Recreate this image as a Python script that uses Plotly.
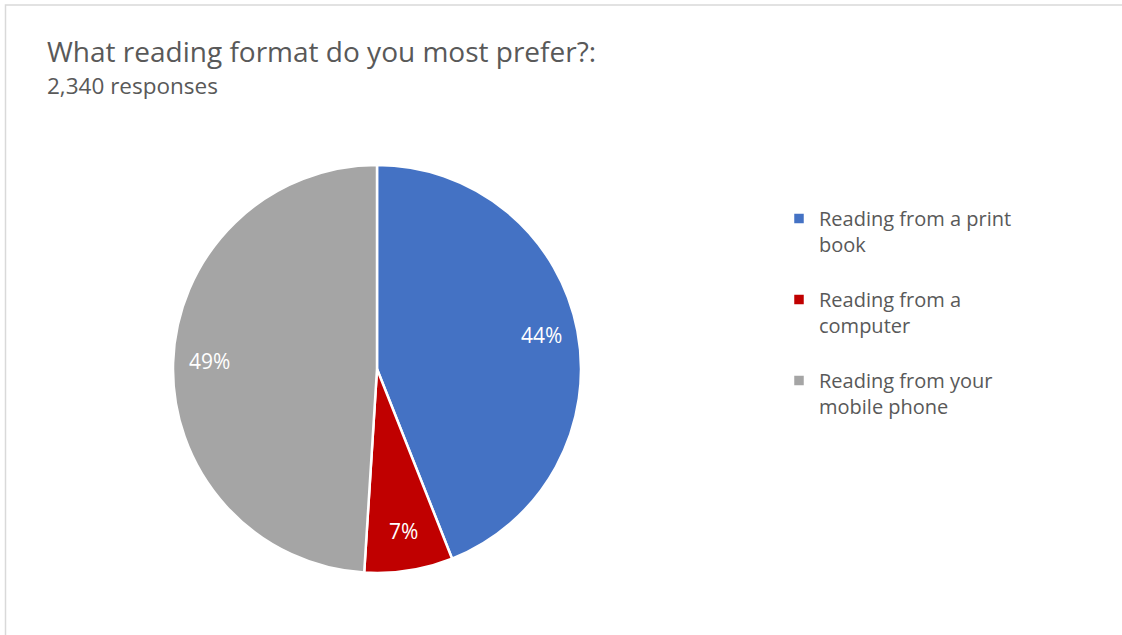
import math
import plotly.graph_objects as go

# Survey results: preferred reading format
categories = ["Reading from a print<br>book<br> ", "Reading from a<br>computer<br> ", "Reading from your<br>mobile phone<br> "]
shares = [44, 7, 49]
colors = ["#4472C4", "#C00000", "#A5A5A5"]

W, H = 1122, 635
FONT = "Open Sans"
GREY_TEXT = "#595959"

# pie geometry (pixels)
CX, CY, R = 377, 369, 204
LABEL_RADIUS = 0.82

fig = go.Figure(
    go.Pie(
        labels=categories,
        values=shares,
        sort=False,
        direction="clockwise",
        rotation=0,
        marker=dict(colors=colors, line=dict(color="white", width=2.5)),
        textinfo="none",
        domain=dict(x=[(CX - R) / W, (CX + R) / W], y=[(H - CY - R) / H, (H - CY + R) / H]),
        hovertemplate="%{value}%<extra></extra>",
    )
)

# percentage labels placed at the middle angle of each slice
total = sum(shares)
annotations = []
cum = 0
for v in shares:
    mid = (cum + v / 2) / total * 2 * math.pi
    cum += v
    px = CX + LABEL_RADIUS * R * math.sin(mid)
    py = CY - LABEL_RADIUS * R * math.cos(mid)
    annotations.append(dict(
        text=f"{v}%", xref="paper", yref="paper",
        x=px / W, y=1 - (py - 3) / H, xanchor="center", yanchor="middle",
        showarrow=False, font=dict(family=FONT, size=21, color="white"),
    ))

annotations += [
    dict(
        text="What reading format do you most prefer?:",
        xref="paper", yref="paper", x=45 / W, y=1 - 30 / H,
        xanchor="left", yanchor="top", showarrow=False,
        font=dict(family=FONT, size=28, color=GREY_TEXT),
    ),
    dict(
        text="2,340 responses",
        xref="paper", yref="paper", x=45 / W, y=1 - 68 / H,
        xanchor="left", yanchor="top", showarrow=False,
        font=dict(family=FONT, size=22.5, color=GREY_TEXT),
    ),
]

fig.update_layout(
    width=W,
    height=H,
    margin=dict(l=0, r=0, t=0, b=0),
    paper_bgcolor="white",
    plot_bgcolor="white",
    font=dict(family=FONT, color=GREY_TEXT),
    showlegend=True,
    legend=dict(
        x=779 / W,
        y=1 - 199 / H,
        xanchor="left",
        yanchor="top",
        valign="top",
        font=dict(family=FONT, size=20, color=GREY_TEXT),
        tracegroupgap=0,
        itemwidth=30,
        bgcolor="rgba(0,0,0,0)",
    ),
    shapes=[
        dict(
            type="rect", xref="paper", yref="paper",
            x0=5.5 / W, x1=1.01, y0=-0.01, y1=1 - 5 / H,
            line=dict(color="#D9D9D9", width=1.5),
        )
    ],
    annotations=annotations,
)

fig.write_html("out.html")
